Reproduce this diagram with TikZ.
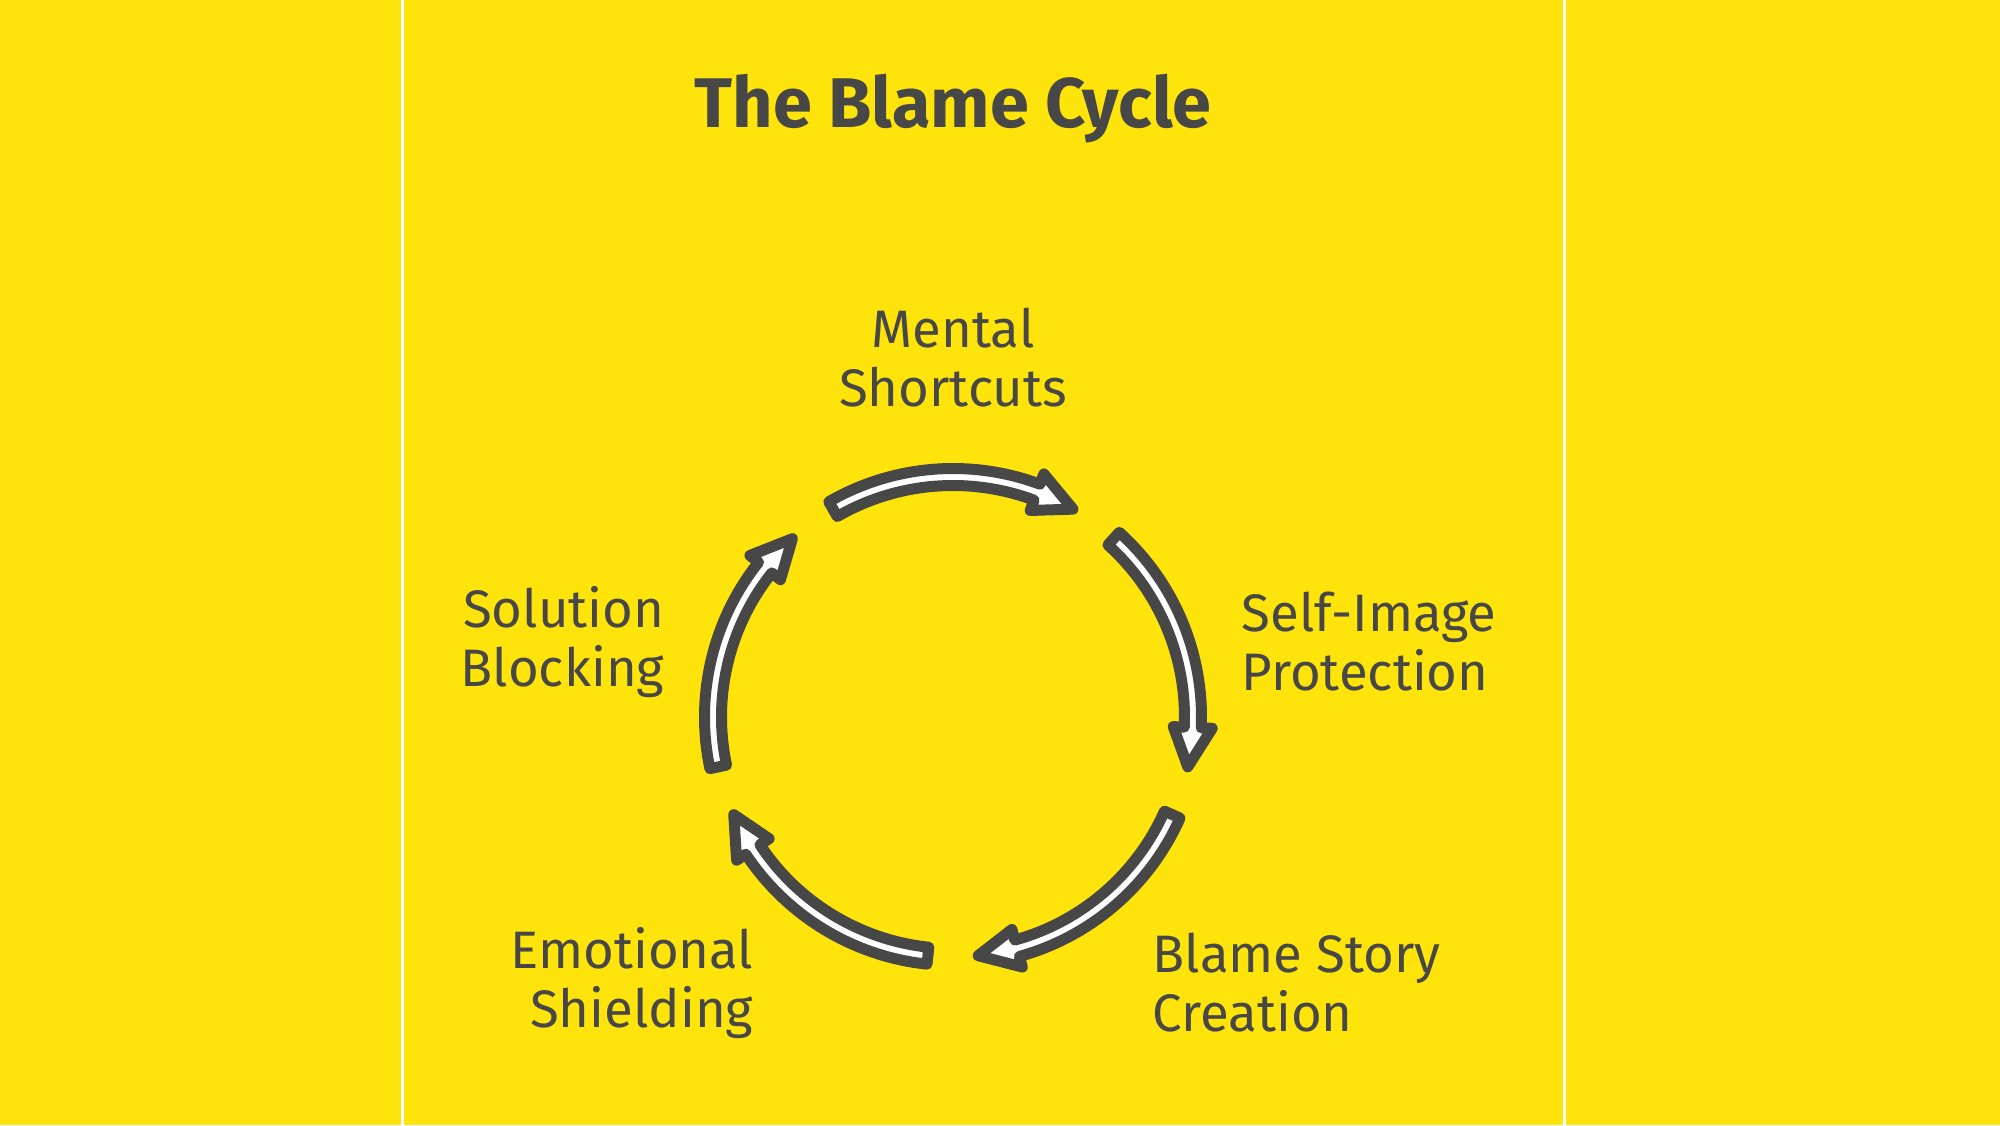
\documentclass[tikz,border=0pt]{standalone}
\usepackage{fontspec}
\setmainfont{Fira Sans}
\usetikzlibrary{positioning}

\definecolor{bgyellow}{HTML}{FFE40C}
\definecolor{inkgray}{HTML}{474747}

\tikzstyle{heading} = [text=inkgray, font=\fontsize{20}{24}\selectfont\bfseries]
\tikzstyle{stage} = [text=inkgray, font=\fontsize{15}{16.8}\selectfont, inner sep=0pt]
\tikzstyle{ringarrow} = [fill=white, draw=inkgray, line width=0.11cm, line join=round]
\tikzstyle{divider} = [draw=white, line width=0.03cm]

\begin{document}
\begin{tikzpicture}

% background and side lines
\fill[bgyellow] (0,0) rectangle (20,11.25);
\useasboundingbox (0,0) rectangle (20,11.25);
\draw[divider] (4.02,0) -- (4.02,11.25);
\draw[divider] (15.64,0) -- (15.64,11.25);

\node (title) [heading, anchor=base] at (9.53,9.97) {The Blame Cycle};

\coordinate (hub) at (9.53,4.08);

% stages
\node (shortcuts) [stage, align=center] at (9.53,7.67) {Mental\\Shortcuts};
\node (selfimage) [stage, align=left, anchor=west] at (12.41,4.83) {Self-Image\\Protection};
\node (story) [stage, align=left, anchor=west] at (11.52,1.42) {Blame Story\\Creation};
\node (shielding) [stage, align=right, anchor=east] at (7.54,1.42) {Emotional\\Shielding};
\node (blocking) [stage, align=right, anchor=east] at (6.65,4.83) {Solution\\Blocking};

% cycle arrows
\begin{scope}[shift={(hub)}]
\foreach \from in {120,48,-24,-96,-168} {
  \pgfmathsetmacro{\upto}{\from-60}
  \pgfmathsetmacro{\base}{\upto+9.5}
  \draw[ringarrow] (\from:2.485) arc[start angle=\from, end angle=\base, radius=2.485]
    -- (\base:2.595) -- (\upto:2.40) -- (\base:2.205) -- (\base:2.315)
    arc[start angle=\base, end angle=\from, radius=2.315] -- cycle;
}
\end{scope}

\end{tikzpicture}
\end{document}
